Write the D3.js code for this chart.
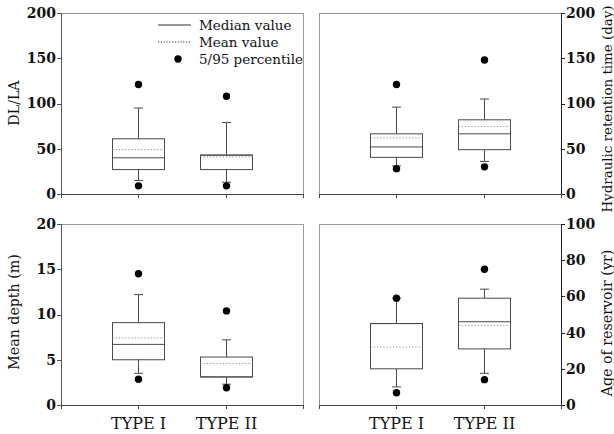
<!DOCTYPE html>
<html>
<head>
<meta charset="utf-8">
<script src="https://cdn.jsdelivr.net/npm/d3@7/dist/d3.min.js"></script>
<style>
  html, body { margin: 0; padding: 0; background: #fff; }
  svg { display: block; }
  text { font-family: "DejaVu Serif", serif; fill: #111; }
</style>
</head>
<body>
<svg id="chart" width="614" height="434"></svg>
<script>
// Reservoir categories
const categories = ["TYPE I", "TYPE II"];

// Order of the summary statistics in each row below
const statKeys = ["p5", "lowWhisker", "q1", "median", "mean", "q3", "highWhisker", "p95"];

// Discharge length / lake area (one row per category)
const dlLaStats = [
  [9, 15, 27, 40, 49, 61, 95, 121],
  [9, 13, 27, 43, 41, 43, 79, 108]
];
// Hydraulic retention time, days
const retentionStats = [
  [28, 31, 40.5, 52, 62, 66.5, 96, 121],
  [30, 36, 49, 66.5, 74.5, 82, 105, 148]
];
// Mean depth, m
const depthStats = [
  [2.85, 3.5, 5.0, 6.7, 7.4, 9.1, 12.2, 14.5],
  [1.9, 2.3, 3.1, 3.1, 4.6, 5.3, 7.2, 10.4]
];
// Age of reservoir, years
const ageStats = [
  [6.8, 10, 20, 45, 32, 45, 59, 59],
  [14, 17.5, 31, 46, 44, 59, 64, 75]
];

// Axis tick values
const dlLaTicks = [0, 50, 100, 150, 200];
const retentionTicks = [0, 50, 100, 150, 200];
const depthTicks = [0, 5, 10, 15, 20];
const ageTicks = [0, 20, 40, 60, 80, 100];

// Legend entries
const legendLabels = ["Median value", "Mean value", "5/95 percentile"];

const svg = d3.select("#chart");
const W = 242, H = 181;

const panels = [
  { stats: dlLaStats, ticks: dlLaTicks, max: 200, title: "DL/LA", side: "left", x: 61, y: 13, xLabels: false, legend: true, titleY: 90, titleSize: 14.2 },
  { stats: retentionStats, ticks: retentionTicks, max: 200, title: "Hydraulic retention time (day)", side: "right", x: 319, y: 13, xLabels: false, titleY: 96, titleSize: 13.4 },
  { stats: depthStats, ticks: depthTicks, max: 20, title: "Mean depth (m)", side: "left", x: 61, y: 224, xLabels: true, titleY: 88, titleSize: 14.2 },
  { stats: ageStats, ticks: ageTicks, max: 100, title: "Age of reservoir (yr)", side: "right", x: 319, y: 224, xLabels: true, titleY: 99, titleSize: 14.2 }
];

const boxColor = "#4a4a4a";
const meanColor = "#8a8a8a";
const frameColor = "#9a9a9a";

panels.forEach(p => {
  const g = svg.append("g").attr("transform", `translate(${p.x},${p.y})`);
  const x = d3.scalePoint().domain(categories).range([0, W]).padding(0.875);
  const y = d3.scaleLinear().domain([0, p.max]).range([H, 0]);

  // light frame around the plot area
  g.append("rect").attr("x", 0).attr("y", 0).attr("width", W).attr("height", H)
    .attr("fill", "none").attr("stroke", frameColor).attr("stroke-width", 1)
    .attr("shape-rendering", "crispEdges");

  // value axis
  const yAxis = (p.side === "left" ? d3.axisLeft(y) : d3.axisRight(y))
    .tickValues(p.ticks).tickSize(4).tickPadding(1).tickFormat(d3.format("d"));
  const ya = g.append("g")
    .attr("transform", p.side === "left" ? "translate(0,0)" : `translate(${W},0)`)
    .call(yAxis);
  ya.selectAll("path, line").attr("stroke", p.side === "left" ? "#555" : "#222")
    .attr("shape-rendering", "crispEdges");
  ya.selectAll("text").attr("font-family", "DejaVu Serif").attr("font-weight", "bold")
    .attr("font-size", 14).attr("fill", "#111");

  // category axis
  const xAxis = d3.axisBottom(x).tickSize(4).tickPadding(9)
    .tickFormat(p.xLabels ? (d => d) : () => "");
  const xa = g.append("g").attr("transform", `translate(0,${H})`).call(xAxis);
  xa.select(".domain").attr("stroke", "#444").attr("shape-rendering", "crispEdges");
  xa.selectAll("line").attr("stroke", "#444").attr("shape-rendering", "crispEdges");
  xa.selectAll("text").attr("font-family", "DejaVu Serif").attr("font-size", 16)
    .attr("fill", "#111");

  // axis title
  const tx = p.side === "left" ? -47 : W + 46;
  g.append("text")
    .attr("transform", `translate(${tx},${p.titleY}) rotate(-90)`)
    .attr("text-anchor", "middle")
    .attr("dominant-baseline", "central")
    .attr("font-size", p.titleSize)
    .text(p.title);

  // box plots
  const halfBox = 26, halfCap = 4.5;
  p.stats.forEach((row, i) => {
    const s = {};
    statKeys.forEach((k, j) => { s[k] = row[j]; });
    const cx = Math.round(x(categories[i])) + 0.5;
    const bg = g.append("g");

    // whiskers
    bg.append("line").attr("x1", cx).attr("x2", cx).attr("y1", y(s.q3)).attr("y2", y(s.highWhisker))
      .attr("stroke", boxColor);
    bg.append("line").attr("x1", cx).attr("x2", cx).attr("y1", y(s.q1)).attr("y2", y(s.lowWhisker))
      .attr("stroke", boxColor);
    [s.highWhisker, s.lowWhisker].forEach(v => {
      bg.append("line").attr("x1", cx - halfCap).attr("x2", cx + halfCap)
        .attr("y1", y(v)).attr("y2", y(v)).attr("stroke", boxColor);
    });

    // box
    bg.append("rect").attr("x", cx - halfBox).attr("width", halfBox * 2)
      .attr("y", y(s.q3)).attr("height", y(s.q1) - y(s.q3))
      .attr("fill", "none").attr("stroke", boxColor);

    // mean (dotted) and median (solid)
    bg.append("line").attr("x1", cx - halfBox).attr("x2", cx + halfBox)
      .attr("y1", y(s.mean)).attr("y2", y(s.mean))
      .attr("stroke", meanColor).attr("stroke-dasharray", "1.2,2");
    bg.append("line").attr("x1", cx - halfBox).attr("x2", cx + halfBox)
      .attr("y1", y(s.median)).attr("y2", y(s.median))
      .attr("stroke", boxColor);

    // 5th / 95th percentiles
    [s.p5, s.p95].forEach(v => {
      bg.append("circle").attr("cx", cx).attr("cy", y(v)).attr("r", 3.7).attr("fill", "#000");
    });
  });

  // legend
  if (p.legend) {
    const lg = g.append("g").attr("transform", "translate(97,12)");
    legendLabels.forEach((lab, i) => {
      const ly = i * 17;
      if (i === 0) {
        lg.append("line").attr("x1", 0).attr("x2", 33).attr("y1", ly).attr("y2", ly).attr("stroke", "#333");
      } else if (i === 1) {
        lg.append("line").attr("x1", 0).attr("x2", 33).attr("y1", ly).attr("y2", ly)
          .attr("stroke", "#333").attr("stroke-dasharray", "1.2,1.6");
      } else {
        lg.append("circle").attr("cx", 20).attr("cy", ly).attr("r", 3.7).attr("fill", "#000");
      }
      lg.append("text").attr("x", 41).attr("y", ly).attr("dominant-baseline", "central")
        .attr("font-size", 13.5).text(lab);
    });
  }
});
</script>
</body>
</html>
